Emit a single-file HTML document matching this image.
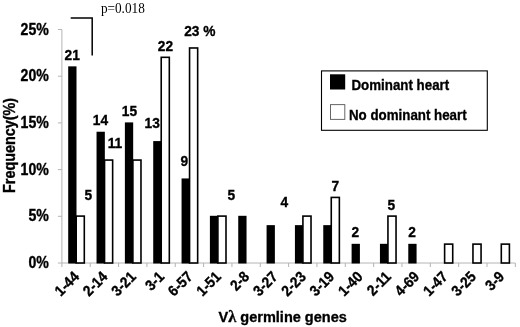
<!DOCTYPE html><html><head><meta charset="utf-8"><style>html,body{margin:0;padding:0;background:#fff}svg{display:block;filter:blur(0.45px)}text{font-family:"Liberation Sans",sans-serif;font-weight:bold;font-size:13.33px;fill:#000;stroke:#000;stroke-width:0.3px}.s{stroke:none;font-family:"Liberation Serif",serif;font-weight:normal;font-size:13px}</style></head><body>
<svg width="520" height="327" viewBox="0 0 520 327">
<rect width="520" height="327" fill="#fff"/>
<g stroke="#b4b4b4" stroke-width="1" fill="none">
<line x1="61.90" y1="29.50" x2="61.90" y2="267.00"/>
<line x1="57.90" y1="263.00" x2="515.34" y2="263.00"/>
<line x1="90.24" y1="263.00" x2="90.24" y2="267.00"/>
<line x1="118.58" y1="263.00" x2="118.58" y2="267.00"/>
<line x1="146.92" y1="263.00" x2="146.92" y2="267.00"/>
<line x1="175.26" y1="263.00" x2="175.26" y2="267.00"/>
<line x1="203.60" y1="263.00" x2="203.60" y2="267.00"/>
<line x1="231.94" y1="263.00" x2="231.94" y2="267.00"/>
<line x1="260.28" y1="263.00" x2="260.28" y2="267.00"/>
<line x1="288.62" y1="263.00" x2="288.62" y2="267.00"/>
<line x1="316.96" y1="263.00" x2="316.96" y2="267.00"/>
<line x1="345.30" y1="263.00" x2="345.30" y2="267.00"/>
<line x1="373.64" y1="263.00" x2="373.64" y2="267.00"/>
<line x1="401.98" y1="263.00" x2="401.98" y2="267.00"/>
<line x1="430.32" y1="263.00" x2="430.32" y2="267.00"/>
<line x1="458.66" y1="263.00" x2="458.66" y2="267.00"/>
<line x1="487.00" y1="263.00" x2="487.00" y2="267.00"/>
<line x1="515.34" y1="263.00" x2="515.34" y2="267.00"/>
<line x1="57.90" y1="216.30" x2="61.90" y2="216.30"/>
<line x1="57.90" y1="169.60" x2="61.90" y2="169.60"/>
<line x1="57.90" y1="122.90" x2="61.90" y2="122.90"/>
<line x1="57.90" y1="76.20" x2="61.90" y2="76.20"/>
<line x1="57.90" y1="29.50" x2="61.90" y2="29.50"/>
</g>
<rect x="68.20" y="66.36" width="8.30" height="197.14" fill="#000"/>
<rect x="76.20" y="216.10" width="8.10" height="46.90" fill="#fff" stroke="#000" stroke-width="1.6"/>
<rect x="96.54" y="131.74" width="8.30" height="131.76" fill="#000"/>
<rect x="104.54" y="160.06" width="8.10" height="102.94" fill="#fff" stroke="#000" stroke-width="1.6"/>
<rect x="124.88" y="122.40" width="8.30" height="141.10" fill="#000"/>
<rect x="132.88" y="160.06" width="8.10" height="102.94" fill="#fff" stroke="#000" stroke-width="1.6"/>
<rect x="153.22" y="141.08" width="8.30" height="122.42" fill="#000"/>
<rect x="161.22" y="57.32" width="8.10" height="205.68" fill="#fff" stroke="#000" stroke-width="1.6"/>
<rect x="181.56" y="178.44" width="8.30" height="85.06" fill="#000"/>
<rect x="189.56" y="47.98" width="8.10" height="215.02" fill="#fff" stroke="#000" stroke-width="1.6"/>
<rect x="209.90" y="215.80" width="8.30" height="47.70" fill="#000"/>
<rect x="217.90" y="216.10" width="8.10" height="46.90" fill="#fff" stroke="#000" stroke-width="1.6"/>
<rect x="238.24" y="215.80" width="8.30" height="47.70" fill="#000"/>
<rect x="266.58" y="225.14" width="8.30" height="38.36" fill="#000"/>
<rect x="294.92" y="225.14" width="8.30" height="38.36" fill="#000"/>
<rect x="302.92" y="216.10" width="8.10" height="46.90" fill="#fff" stroke="#000" stroke-width="1.6"/>
<rect x="323.26" y="225.14" width="8.30" height="38.36" fill="#000"/>
<rect x="331.26" y="197.42" width="8.10" height="65.58" fill="#fff" stroke="#000" stroke-width="1.6"/>
<rect x="351.60" y="243.82" width="8.30" height="19.68" fill="#000"/>
<rect x="379.94" y="243.82" width="8.30" height="19.68" fill="#000"/>
<rect x="387.94" y="216.10" width="8.10" height="46.90" fill="#fff" stroke="#000" stroke-width="1.6"/>
<rect x="408.28" y="243.82" width="8.30" height="19.68" fill="#000"/>
<rect x="444.62" y="244.12" width="8.10" height="18.88" fill="#fff" stroke="#000" stroke-width="1.6"/>
<rect x="472.96" y="244.12" width="8.10" height="18.88" fill="#fff" stroke="#000" stroke-width="1.6"/>
<rect x="501.30" y="244.12" width="8.10" height="18.88" fill="#fff" stroke="#000" stroke-width="1.6"/>
<text transform="translate(48.90,268.15) scale(1.060,1.190)" text-anchor="end">0%</text>
<text transform="translate(48.90,221.45) scale(1.060,1.190)" text-anchor="end">5%</text>
<text transform="translate(48.90,174.75) scale(1.060,1.190)" text-anchor="end">10%</text>
<text transform="translate(48.90,128.05) scale(1.060,1.190)" text-anchor="end">15%</text>
<text transform="translate(48.90,81.35) scale(1.060,1.190)" text-anchor="end">20%</text>
<text transform="translate(48.90,34.65) scale(1.060,1.190)" text-anchor="end">25%</text>
<text transform="translate(14.50,145.40) rotate(-90) scale(1.080,1.200)" text-anchor="middle">Frequency(%)</text>
<text transform="translate(282.70,321.70) scale(1.090,1.090)" text-anchor="middle">V<tspan font-family="Liberation Serif" font-size="15">λ</tspan> germline genes</text>
<text transform="translate(80.17,277.60) rotate(-45) scale(1.030,1.120)" text-anchor="end">1-44</text>
<text transform="translate(108.51,277.60) rotate(-45) scale(1.030,1.120)" text-anchor="end">2-14</text>
<text transform="translate(136.85,277.60) rotate(-45) scale(1.030,1.120)" text-anchor="end">3-21</text>
<text transform="translate(165.19,277.60) rotate(-45) scale(1.030,1.120)" text-anchor="end">3-1</text>
<text transform="translate(193.53,277.60) rotate(-45) scale(1.030,1.120)" text-anchor="end">6-57</text>
<text transform="translate(221.87,277.60) rotate(-45) scale(1.030,1.120)" text-anchor="end">1-51</text>
<text transform="translate(250.21,277.60) rotate(-45) scale(1.030,1.120)" text-anchor="end">2-8</text>
<text transform="translate(278.55,277.60) rotate(-45) scale(1.030,1.120)" text-anchor="end">3-27</text>
<text transform="translate(306.89,277.60) rotate(-45) scale(1.030,1.120)" text-anchor="end">2-23</text>
<text transform="translate(335.23,277.60) rotate(-45) scale(1.030,1.120)" text-anchor="end">3-19</text>
<text transform="translate(363.57,277.60) rotate(-45) scale(1.030,1.120)" text-anchor="end">1-40</text>
<text transform="translate(391.91,277.60) rotate(-45) scale(1.030,1.120)" text-anchor="end">2-11</text>
<text transform="translate(420.25,277.60) rotate(-45) scale(1.030,1.120)" text-anchor="end">4-69</text>
<text transform="translate(448.59,277.60) rotate(-45) scale(1.030,1.120)" text-anchor="end">1-47</text>
<text transform="translate(476.93,277.60) rotate(-45) scale(1.030,1.120)" text-anchor="end">3-25</text>
<text transform="translate(505.27,277.60) rotate(-45) scale(1.030,1.120)" text-anchor="end">3-9</text>
<text transform="translate(72.20,60.00) scale(1.030,1.100)" text-anchor="middle">21</text>
<text transform="translate(88.30,200.20) scale(1.030,1.100)" text-anchor="middle">5</text>
<text transform="translate(100.40,125.30) scale(1.030,1.100)" text-anchor="middle">14</text>
<text transform="translate(115.00,148.20) scale(1.030,1.100)" text-anchor="middle">11</text>
<text transform="translate(129.50,115.50) scale(1.030,1.100)" text-anchor="middle">15</text>
<text transform="translate(152.20,128.40) scale(1.030,1.100)" text-anchor="middle">13</text>
<text transform="translate(165.40,51.20) scale(1.030,1.100)" text-anchor="middle">22</text>
<text transform="translate(184.20,166.40) scale(1.030,1.100)" text-anchor="middle">9</text>
<text transform="translate(199.80,36.20) scale(1.030,1.100)" text-anchor="middle">23 %</text>
<text transform="translate(231.20,200.20) scale(1.030,1.100)" text-anchor="middle">5</text>
<text transform="translate(284.40,207.00) scale(1.030,1.100)" text-anchor="middle">4</text>
<text transform="translate(335.20,190.80) scale(1.030,1.100)" text-anchor="middle">7</text>
<text transform="translate(355.20,237.30) scale(1.030,1.100)" text-anchor="middle">2</text>
<text transform="translate(391.40,209.80) scale(1.030,1.100)" text-anchor="middle">5</text>
<text transform="translate(412.10,237.30) scale(1.030,1.100)" text-anchor="middle">2</text>
<path d="M70.7 18 H92.2 V55.5" fill="none" stroke="#000" stroke-width="1.5"/>
<text transform="translate(100.90,12.60) scale(1.020,1.190)" text-anchor="start" class="s">p=0.018</text>
<rect x="321.5" y="70.9" width="165.8" height="59.4" fill="#fff" stroke="#000" stroke-width="1.1"/>
<rect x="330" y="74.3" width="15.2" height="15.2" fill="#000"/>
<rect x="330.5" y="104.6" width="14.3" height="14.8" fill="#fff" stroke="#666" stroke-width="1"/>
<text transform="translate(351.50,89.90) scale(1.000,1.080)" text-anchor="start">Dominant heart</text>
<text transform="translate(349.00,119.90) scale(1.000,1.080)" text-anchor="start">No dominant heart</text>
</svg></body></html>
